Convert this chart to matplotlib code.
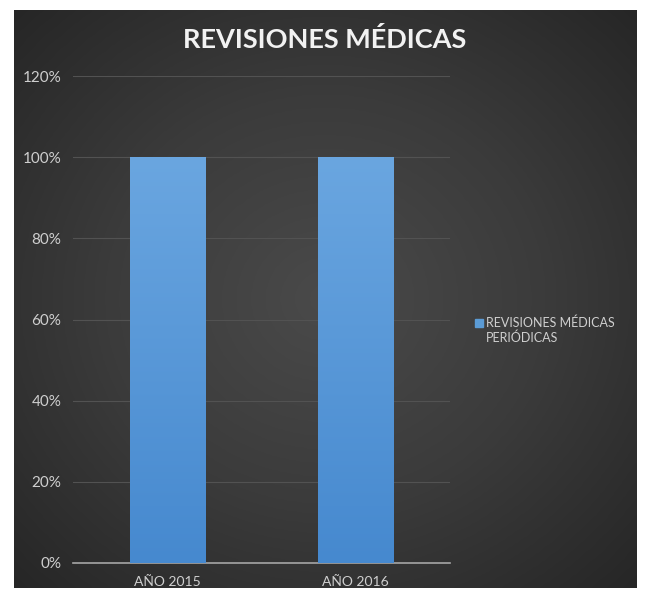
import numpy as np
import matplotlib.pyplot as plt
from matplotlib.ticker import FuncFormatter
from matplotlib.colors import LinearSegmentedColormap

categories = ['AÑO 2015', 'AÑO 2016']
values = [1.0, 1.0]
series_name = 'REVISIONES MÉDICAS\nPERIÓDICAS'
title = 'REVISIONES MÉDICAS'

plt.rcParams['font.family'] = ['Lato', 'DejaVu Sans']

fig = plt.figure(figsize=(6.5, 5.98), dpi=100, facecolor='white')

# dark radial background like the Excel chart area
bg = fig.add_axes([14/650, 10/598, 623/650, 578/598])
yy, xx = np.mgrid[-1:1:300j, -1:1:300j]
r = np.sqrt((xx*0.95)**2 + (yy*0.95)**2)
bgcm = LinearSegmentedColormap.from_list('bg', ['#4a4a4a', '#3b3b3b', '#262626'])
bg.imshow(np.clip(r, 0, 1.35), cmap=bgcm, vmin=0, vmax=1.35, aspect='auto',
          extent=[0, 1, 0, 1], interpolation='bicubic')
bg.set_axis_off()

ax = fig.add_axes([73/650, 35/598, 377/650, 487/598])
ax.patch.set_alpha(0)
x = np.arange(len(categories))
bars = ax.bar(x, values, width=0.4, color='#5b9bd5', zorder=3)

# vertical gradient inside the bars
grad = np.linspace(0, 1, 256).reshape(-1, 1)
cm = LinearSegmentedColormap.from_list('b', ['#4689cf', '#6aa6e0'])
for b in bars:
    im = ax.imshow(grad, cmap=cm, origin='lower', aspect='auto', zorder=4,
                   extent=[b.get_x(), b.get_x() + b.get_width(), 0, b.get_height()])
    im.set_clip_path(b)

ax.set_xlim(-0.5, 1.5)
ax.set_ylim(0, 1.2)
ax.set_yticks(np.arange(0, 1.21, 0.2))
ax.yaxis.set_major_formatter(FuncFormatter(lambda v, p: f'{v*100:.0f}%'))
ax.set_xticks(x)
ax.set_xticklabels(categories)
ax.grid(axis='y', color='#525252', linewidth=0.8, zorder=1)
for s in ['top', 'right', 'left']:
    ax.spines[s].set_visible(False)
ax.spines['bottom'].set_color('#a6a6a6')
ax.spines['bottom'].set_linewidth(1.2)
ax.tick_params(axis='both', length=0, colors='#cfcfcf')
ax.tick_params(axis='y', pad=8.5, labelsize=11)
ax.tick_params(axis='x', pad=9, labelsize=10)

fig.text(0.5, 1 - 40/598, title, ha='center', va='center', fontsize=19.5,
         fontweight='bold', color='#f2f2f2')

# legend
fig.patches.append(plt.Rectangle((475/650, 1 - 327/598), 8/650, 8/598,
                                 transform=fig.transFigure, color='#5b9bd5', figure=fig))
fig.text(486/650, 1 - 330/598, series_name, ha='left', va='center', fontsize=9,
         color='#cfcfcf', linespacing=1.25)

plt.savefig('out.png', dpi=100, facecolor='white')
